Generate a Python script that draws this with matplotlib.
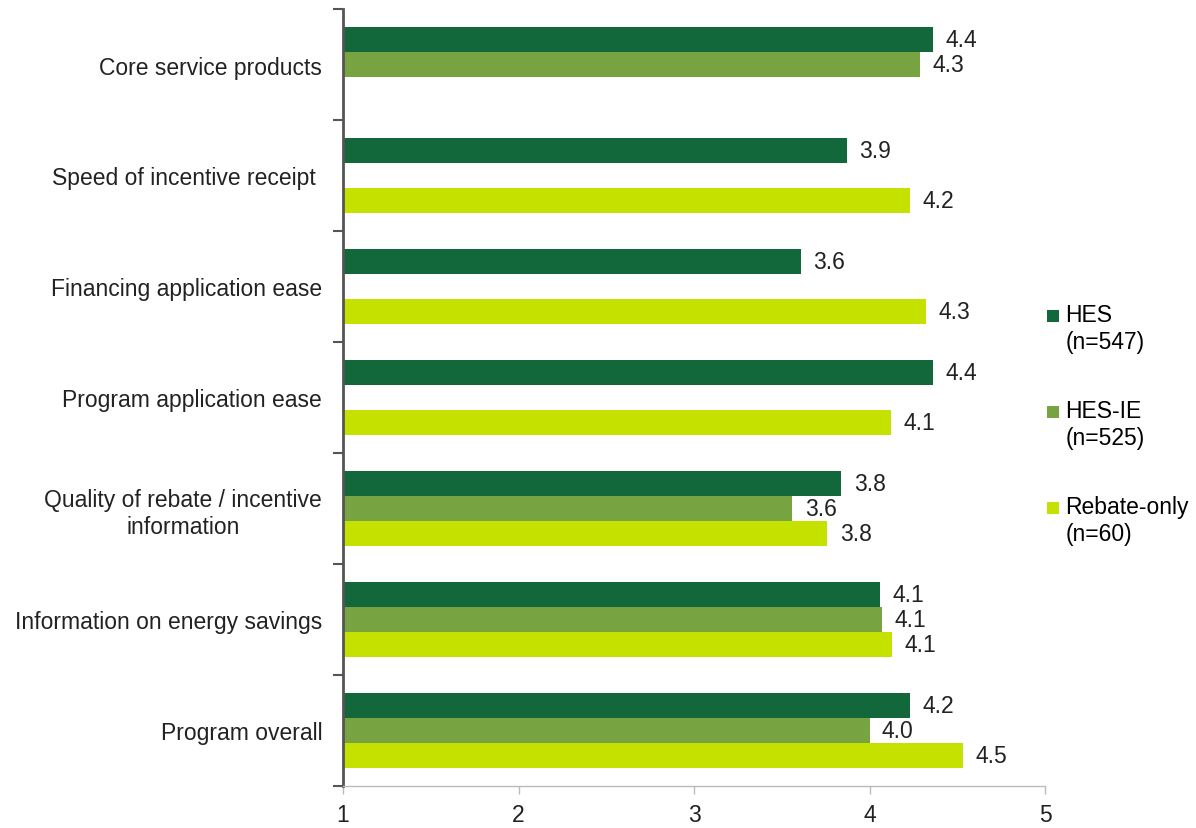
import numpy as np
import matplotlib.pyplot as plt
from matplotlib.patches import Rectangle
from matplotlib.legend_handler import HandlerPatch

plt.rcParams['font.family'] = ['Liberation Sans', 'DejaVu Sans']

# Datos
categorias = ["Core service products",
              "Speed of incentive receipt ",
              "Financing application ease",
              "Program application ease",
              "Quality of rebate / incentive\ninformation",
              "Information on energy savings",
              "Program overall"]
hes = [4.36, 3.87, 3.61, 4.36, 3.84, 4.06, 4.23]
hes_ie = [4.29, np.nan, np.nan, np.nan, 3.56, 4.07, 4.00]
rebate = [np.nan, 4.23, 4.32, 4.12, 3.76, 4.13, 4.53]
series = ["HES\n(n=547)", "HES-IE\n(n=525)", "Rebate-only\n(n=60)"]
colores = ["#12673B", "#77A341", "#C4E100"]
ticks_x = [1, 2, 3, 4, 5]

FS = 16.5


class CuadroArriba(HandlerPatch):
    # cuadrado pequeno alineado con la primera linea del texto
    def create_artists(self, legend, orig_handle, xdescent, ydescent,
                       width, height, fontsize, trans):
        lado = fontsize * 0.53
        r = Rectangle((width - lado, height - fontsize * 0.05), lado, lado,
                      facecolor=orig_handle.get_facecolor(), edgecolor='none',
                      transform=trans)
        return [r]


fig = plt.figure(figsize=(11.96, 8.29), dpi=100)
ax = fig.add_axes([343 / 1196, 1 - 787 / 829, 702 / 1196, 777 / 829])

y = np.arange(len(categorias))
alto = 0.228
for k, (vals, col) in enumerate(zip([hes, hes_ie, rebate], colores)):
    v = np.array(vals, dtype=float)
    pos = y + (k - 1) * alto
    ax.barh(pos, v - 1, left=1, height=alto, color=col)
    for p, val in zip(pos, v):
        if not np.isnan(val):
            ax.annotate(f"{val:.1f}", xy=(val, p), xytext=(9, 0),
                        textcoords='offset points', va='center', ha='left',
                        fontsize=FS, color='#222222')

ax.set_xlim(1, 5)
ax.set_ylim(len(categorias) - 0.5, -0.5)
ax.set_xticks(ticks_x)
ax.set_xticklabels([str(t) for t in ticks_x], fontsize=FS, color='#222222')
ax.set_yticks(y)
ax.set_yticklabels(categorias, fontsize=FS, color='#222222')
for t in ax.get_yticklabels():
    t.set_multialignment('center')
ax.set_yticks(np.arange(-0.5, len(categorias)), minor=True)
ax.tick_params(axis='y', which='major', length=0, pad=15)
ax.tick_params(axis='y', which='minor', length=7, width=1.5, color='#555555')
ax.tick_params(axis='x', length=6, width=1, color='#BBBBBB', pad=6)

for s in ['top', 'right']:
    ax.spines[s].set_visible(False)
ax.spines['left'].set_color('#555555')
ax.spines['left'].set_linewidth(2)
ax.spines['bottom'].set_color('#BBBBBB')
ax.spines['bottom'].set_linewidth(1)

cuadros = [Rectangle((0, 0), 1, 1, facecolor=c) for c in colores]
fig.legend(cuadros, series, loc='center left',
           bbox_to_anchor=(1043 / 1196, 1 - 425 / 829),
           frameon=False, fontsize=FS, handlelength=0.7, handleheight=0.7,
           handletextpad=0.27, labelspacing=2.03, borderpad=0,
           borderaxespad=0, handler_map={Rectangle: CuadroArriba()})

fig.savefig("out.png", dpi=100)
